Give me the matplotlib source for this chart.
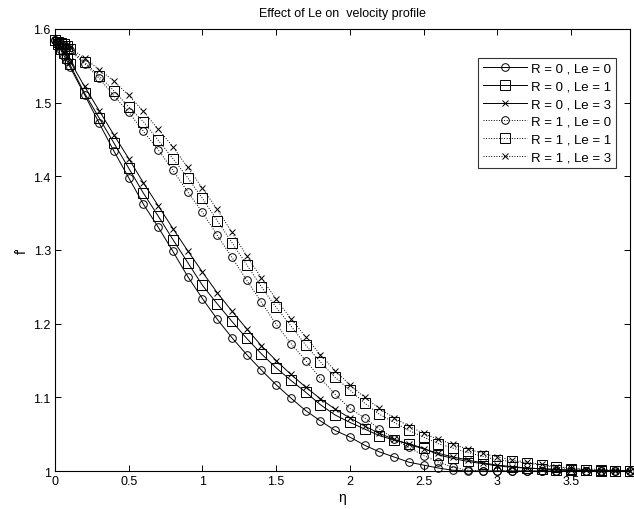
import matplotlib
matplotlib.use("Agg")
import matplotlib.pyplot as plt
from matplotlib.ticker import FuncFormatter

plt.rcParams['font.family'] = ['Liberation Sans', 'DejaVu Sans']

# similarity variable
eta = [0.0, 0.02, 0.04, 0.06, 0.08,
       0.1, 0.2, 0.3, 0.4, 0.5, 0.6, 0.7, 0.8, 0.9, 1.0,
       1.1, 1.2, 1.3, 1.4, 1.5, 1.6, 1.7, 1.8, 1.9, 2.0,
       2.1, 2.2, 2.3, 2.4, 2.5, 2.6, 2.7, 2.8, 2.9, 3.0,
       3.1, 3.2, 3.3, 3.4, 3.5, 3.6, 3.7, 3.8, 3.9]

# f'(eta) for each (R, Le) pair
fp_R0_Le0 = [1.585, 1.578, 1.571, 1.564, 1.557,
             1.549, 1.511, 1.472, 1.434, 1.398, 1.362, 1.331, 1.298, 1.264, 1.234,
             1.206, 1.181, 1.158, 1.137, 1.117, 1.099, 1.082, 1.068, 1.055, 1.046,
             1.035, 1.026, 1.019, 1.012, 1.008, 1.004, 1.001, 1.000, 1.000, 1.000,
             1.000, 1.000, 1.000, 1.000, 1.000, 1.000, 1.000, 1.000, 1.000]
fp_R0_Le1 = [1.585, 1.579, 1.573, 1.567, 1.561,
             1.552, 1.513, 1.479, 1.445, 1.411, 1.377, 1.346, 1.314, 1.283, 1.252,
             1.227, 1.203, 1.180, 1.159, 1.140, 1.123, 1.107, 1.090, 1.076, 1.066,
             1.057, 1.048, 1.042, 1.037, 1.031, 1.022, 1.017, 1.013, 1.010, 1.007,
             1.005, 1.004, 1.003, 1.002, 1.001, 1.001, 1.000, 1.000, 1.000]
fp_R0_Le3 = [1.585, 1.580, 1.575, 1.569, 1.564,
             1.557, 1.522, 1.489, 1.456, 1.424, 1.391, 1.360, 1.329, 1.299, 1.270,
             1.242, 1.217, 1.193, 1.170, 1.150, 1.131, 1.114, 1.098, 1.084, 1.072,
             1.061, 1.051, 1.043, 1.036, 1.030, 1.024, 1.019, 1.015, 1.011, 1.008,
             1.006, 1.004, 1.003, 1.002, 1.001, 1.001, 1.000, 1.000, 1.000]
fp_R1_Le0 = [1.585, 1.582, 1.580, 1.578, 1.575,
             1.571, 1.553, 1.533, 1.509, 1.487, 1.461, 1.436, 1.408, 1.379, 1.351,
             1.320, 1.290, 1.259, 1.229, 1.199, 1.173, 1.150, 1.126, 1.104, 1.085,
             1.072, 1.057, 1.044, 1.032, 1.021, 1.012, 1.005, 1.001, 1.000, 1.000,
             1.000, 1.000, 1.000, 1.000, 1.000, 1.000, 1.000, 1.000, 1.000]
fp_R1_Le1 = [1.585, 1.583, 1.581, 1.579, 1.577,
             1.573, 1.555, 1.536, 1.516, 1.494, 1.474, 1.449, 1.424, 1.398, 1.370,
             1.340, 1.310, 1.280, 1.250, 1.222, 1.197, 1.171, 1.148, 1.127, 1.110,
             1.092, 1.077, 1.066, 1.055, 1.046, 1.037, 1.031, 1.025, 1.020, 1.015,
             1.013, 1.011, 1.008, 1.005, 1.003, 1.002, 1.001, 1.000, 1.000]
fp_R1_Le3 = [1.585, 1.584, 1.582, 1.580, 1.578,
             1.575, 1.560, 1.545, 1.529, 1.510, 1.488, 1.464, 1.440, 1.412, 1.384,
             1.355, 1.324, 1.292, 1.262, 1.233, 1.207, 1.182, 1.158, 1.136, 1.117,
             1.100, 1.085, 1.072, 1.061, 1.051, 1.043, 1.036, 1.030, 1.024, 1.019,
             1.015, 1.012, 1.009, 1.006, 1.004, 1.003, 1.002, 1.001, 1.000]

labels = ['R = 0 , Le = 0', 'R = 0 , Le = 1', 'R = 0 , Le = 3',
          'R = 1 , Le = 0', 'R = 1 , Le = 1', 'R = 1 , Le = 3']
series = [fp_R0_Le0, fp_R0_Le1, fp_R0_Le3, fp_R1_Le0, fp_R1_Le1, fp_R1_Le3]
styles = [('-', 'o', 5.5), ('-', 's', 6.5), ('-', 'x', 4.0),
          (':', 'o', 5.5), (':', 's', 6.5), (':', 'x', 4.0)]

fig = plt.figure(figsize=(6.34, 5.10), dpi=100)
ax = fig.add_axes([0.0868, 0.0745, 0.9069, 0.8667])

for y, lab, (ls, mk, ms) in zip(series, labels, styles):
    ax.plot(eta, y, linestyle=ls, marker=mk, markersize=ms, color='black',
            markerfacecolor='none', markeredgecolor='black',
            linewidth=0.7, markeredgewidth=0.7, label=lab, clip_on=False)

ax.set_xlim(0, 3.9)
ax.set_ylim(1, 1.6)
ax.set_xticks([0, 0.5, 1, 1.5, 2, 2.5, 3, 3.5])
ax.set_yticks([1, 1.1, 1.2, 1.3, 1.4, 1.5, 1.6])
fmt = FuncFormatter(lambda v, p: ('%g' % round(v, 2)))
ax.xaxis.set_major_formatter(fmt)
ax.yaxis.set_major_formatter(fmt)
ax.tick_params(direction='in', top=True, right=True, length=4, width=0.7,
               labelsize=9, pad=3)
for s in ax.spines.values():
    s.set_linewidth(0.8)

ax.set_title('Effect of Le on  velocity profile', fontsize=9, pad=9)
ax.set_xlabel('\u03b7', fontsize=10, labelpad=2)
ax.set_ylabel("f'", fontsize=10)
ax.yaxis.set_label_coords(-0.045, 0.5)

leg = ax.legend(loc='upper right', bbox_to_anchor=(0.975, 0.935),
                fontsize=9.5, frameon=True, fancybox=False,
                edgecolor='black', handlelength=3.4, handletextpad=0.25,
                borderpad=0.35, labelspacing=0.42, borderaxespad=0)
leg.get_frame().set_linewidth(0.8)

fig.savefig('out.png', dpi=100)
